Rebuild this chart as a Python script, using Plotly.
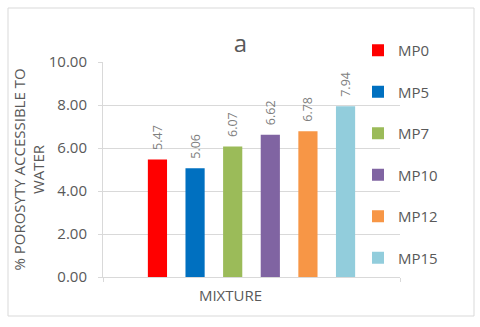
import plotly.graph_objects as go

mixtures = ["MP0", "MP5", "MP7", "MP10", "MP12", "MP15"]
porosity = [5.47, 5.06, 6.07, 6.62, 6.78, 7.94]
colors = ["#FF0000", "#0070C0", "#9BBB59", "#8064A2", "#F79646", "#92CDDC"]
category = "MIXTURE"

W, H = 480, 327
L, R, T, B = 103, 80, 62, 50

fig = go.Figure()
for name, val, col in zip(mixtures, porosity, colors):
    fig.add_trace(go.Bar(
        name=name,
        x=[category],
        y=[val],
        marker=dict(color=col, line=dict(width=0)),
        text=[f"\u00a0\u00a0{val:.2f}"],
        textposition="outside",
        textangle=-90,
        constraintext="none",
        cliponaxis=False,
        textfont=dict(size=12.5, color="#7F7F7F", family="Open Sans"),
        legendgroup=name,
    ))

pw, ph = W - L - R, H - T - B
# chart frame, in paper units
fx0, fx1 = (8 - L) / pw, (474 - L) / pw
fy0, fy1 = (H - B - 316) / ph, (H - B - 8) / ph

fig.update_layout(
    width=W, height=H,
    margin=dict(l=L, r=R, t=T, b=B, autoexpand=False),
    paper_bgcolor="white",
    plot_bgcolor="white",
    font=dict(family="Open Sans", size=15, color="#595959"),
    title=dict(text="a", x=(240.5 - L) / pw, xref="paper", xanchor="center",
               y=1 - 44 / H, yanchor="middle", font=dict(size=24, color="#595959")),
    barmode="group",
    bargap=0.24,
    bargroupgap=0.49,
    showlegend=True,
    legend=dict(x=(358 - L) / pw, xanchor="left", y=(H - B - 34) / ph, yanchor="top",
                maxheight=300,
                font=dict(size=15, color="#595959"), tracegroupgap=19,
                bgcolor="rgba(0,0,0,0)"),
    xaxis=dict(
        showline=True, linecolor="#D9D9D9", linewidth=1,
        ticks="outside", tickson="boundaries", ticklen=4, tickcolor="#D9D9D9",
        ticklabelshift=-21, ticklabelstandoff=5,
        tickfont=dict(size=15, color="#595959"),
        automargin=False,
    ),
    yaxis=dict(
        range=[0, 10], dtick=2, tickformat=".2f",
        showgrid=True, gridcolor="#D9D9D9", gridwidth=1,
        showline=True, linecolor="#D9D9D9", linewidth=1,
        ticks="outside", ticklen=4, tickcolor="#D9D9D9",
        ticklabelstandoff=8,
        zeroline=False,
        automargin=True,
        tickfont=dict(size=15, color="#595959"),
        title=dict(text="% POROSYTY ACCESSIBLE TO<br>WATER", standoff=0,
                   font=dict(size=15, color="#595959")),
    ),
    shapes=[dict(type="rect", xref="paper", yref="paper",
                 x0=fx0, x1=fx1, y0=fy0, y1=fy1,
                 line=dict(color="#D9D9D9", width=1), layer="below")],
)

# page body has a default 8px margin; drop it so the figure sits at 0,0
fig.write_html("out.html", config={"displayModeBar": False},
               post_script="document.body.style.margin='0';")
